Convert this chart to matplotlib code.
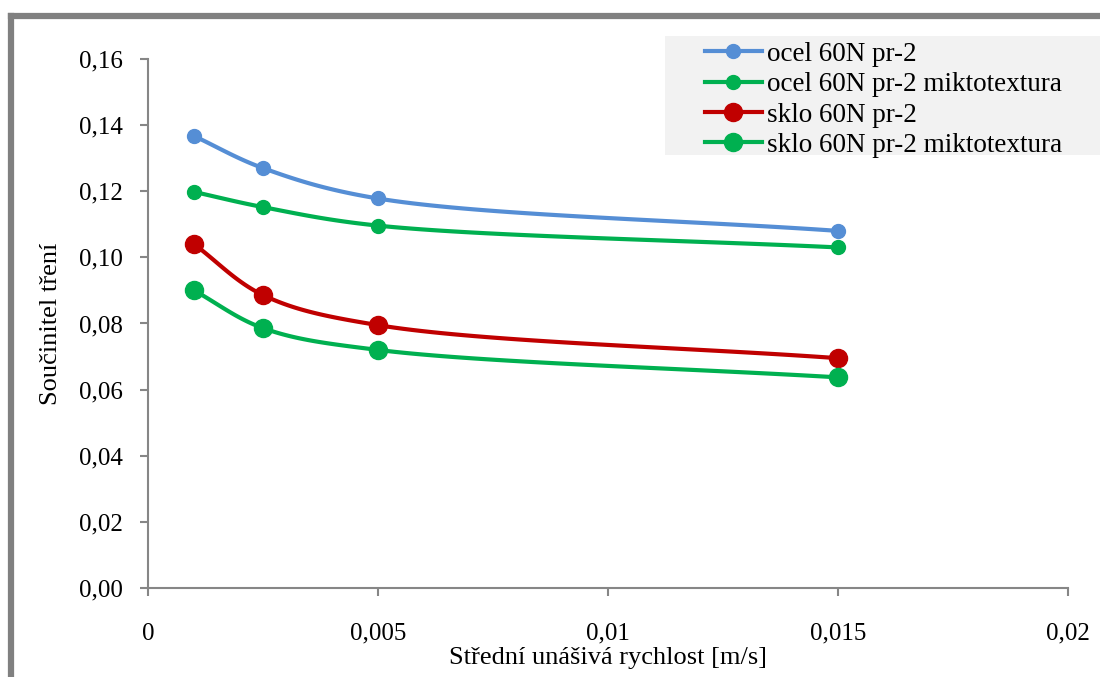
import numpy as np
import matplotlib
matplotlib.use("Agg")
import matplotlib.pyplot as plt
from matplotlib.patches import Rectangle
from matplotlib.lines import Line2D

# data
speed = [0.001, 0.0025, 0.005, 0.015]
ocel = [0.1367, 0.1270, 0.1178, 0.1080]
ocel_mikro = [0.1198, 0.1152, 0.1096, 0.1030]
sklo = [0.1040, 0.0886, 0.0795, 0.0695]
sklo_mikro = [0.0900, 0.0786, 0.0720, 0.0637]
labels = ["ocel 60N pr-2", "ocel 60N pr-2 miktotextura",
          "sklo 60N pr-2", "sklo 60N pr-2 miktotextura"]

BLUE = "#558ED5"
GREEN = "#00B050"
RED = "#C00000"
GRAY = "#868686"

plt.rcParams["font.family"] = ["Liberation Serif", "DejaVu Serif"]
plt.rcParams["font.size"] = 18


def smooth(xs, ys, n=40, alpha=0.5):
    # centripetal Catmull-Rom through the points (Excel-like smoothed line),
    # worked out in roughly screen-proportional units
    sx, sy = 0.02 / 920, 0.16 / 529
    P = np.column_stack([np.asarray(xs) / sx, np.asarray(ys) / sy])
    P = np.vstack([2 * P[0] - P[1], P, 2 * P[-1] - P[-2]])
    out = []
    for i in range(1, len(P) - 2):
        p0, p1, p2, p3 = P[i - 1], P[i], P[i + 1], P[i + 2]
        t0 = 0.0
        t1 = t0 + np.linalg.norm(p1 - p0) ** alpha
        t2 = t1 + np.linalg.norm(p2 - p1) ** alpha
        t3 = t2 + np.linalg.norm(p3 - p2) ** alpha
        t = np.linspace(t1, t2, n)[:, None]
        a1 = (t1 - t) / (t1 - t0) * p0 + (t - t0) / (t1 - t0) * p1
        a2 = (t2 - t) / (t2 - t1) * p1 + (t - t1) / (t2 - t1) * p2
        a3 = (t3 - t) / (t3 - t2) * p2 + (t - t2) / (t3 - t2) * p3
        b1 = (t2 - t) / (t2 - t0) * a1 + (t - t0) / (t2 - t0) * a2
        b2 = (t3 - t) / (t3 - t1) * a2 + (t - t1) / (t3 - t1) * a3
        out.append((t2 - t) / (t2 - t1) * b1 + (t - t1) / (t2 - t1) * b2)
    out = np.vstack(out)
    return out[:, 0] * sx, out[:, 1] * sy


fig = plt.figure(figsize=(11, 6.77), dpi=100)
ax = fig.add_axes([0.1345, 0.1315, 0.8364, 0.7814])
ax.patch.set_alpha(0)

series = [
    (ocel, BLUE, 10),
    (ocel_mikro, GREEN, 10),
    (sklo, RED, 13),
    (sklo_mikro, GREEN, 13),
]
handles = []
for (vals, col, ms), lab in zip(series, labels):
    sx_, sy_ = smooth(speed, vals)
    ax.plot(sx_, sy_, color=col, lw=3, solid_capstyle="round")
    ax.plot(speed, vals, "o", color=col, ms=ms, mec=col)
    handles.append(Line2D([], [], color=col, lw=3, marker="o", ms=ms, mec=col, label=lab))

ax.set_xlim(0, 0.02)
ax.set_ylim(0, 0.16)
ax.set_xticks([0, 0.005, 0.01, 0.015, 0.02])
ax.set_xticklabels(["0", "0,005", "0,01", "0,015", "0,02"])
ax.set_yticks(np.arange(0, 0.161, 0.02))
ax.set_yticklabels([f"{v:.2f}".replace(".", ",") for v in np.arange(0, 0.161, 0.02)])
for s in ["top", "right"]:
    ax.spines[s].set_visible(False)
for s in ["left", "bottom"]:
    ax.spines[s].set_color(GRAY)
    ax.spines[s].set_linewidth(1.5)
ax.tick_params(axis="both", color=GRAY, width=1.5, length=6, direction="out")
ax.tick_params(axis="y", pad=12)
ax.tick_params(axis="x", pad=19)
ax.set_xlabel("Střední unášivá rychlost [m/s]", labelpad=2, fontsize=19)
ax.set_ylabel("Součinitel tření", labelpad=12, fontsize=19)

# legend background box running off the right edge
fig.add_artist(Rectangle((665 / 1100, 1 - 155 / 677), 440 / 1100, 119 / 677,
                         transform=fig.transFigure, facecolor="#F2F2F2",
                         edgecolor="none", zorder=0))
fig.legend(handles=handles, loc="upper left", bbox_to_anchor=(702 / 1100, 1 - 39 / 677),
           frameon=False, handlelength=2.1, handletextpad=0.2, labelspacing=0.2,
           borderaxespad=0, borderpad=0.1, fontsize=19.5)

# outer chart frame (left and top edges visible)
fig.add_artist(Line2D([11 / 1100, 11 / 1100], [0, 1 - 16 / 677], transform=fig.transFigure,
                      color="#808080", lw=4.5, solid_capstyle="projecting"))
fig.add_artist(Line2D([11 / 1100, 1], [1 - 16 / 677, 1 - 16 / 677], transform=fig.transFigure,
                      color="#808080", lw=4.5, solid_capstyle="projecting"))

fig.savefig("out.png", dpi=100)
